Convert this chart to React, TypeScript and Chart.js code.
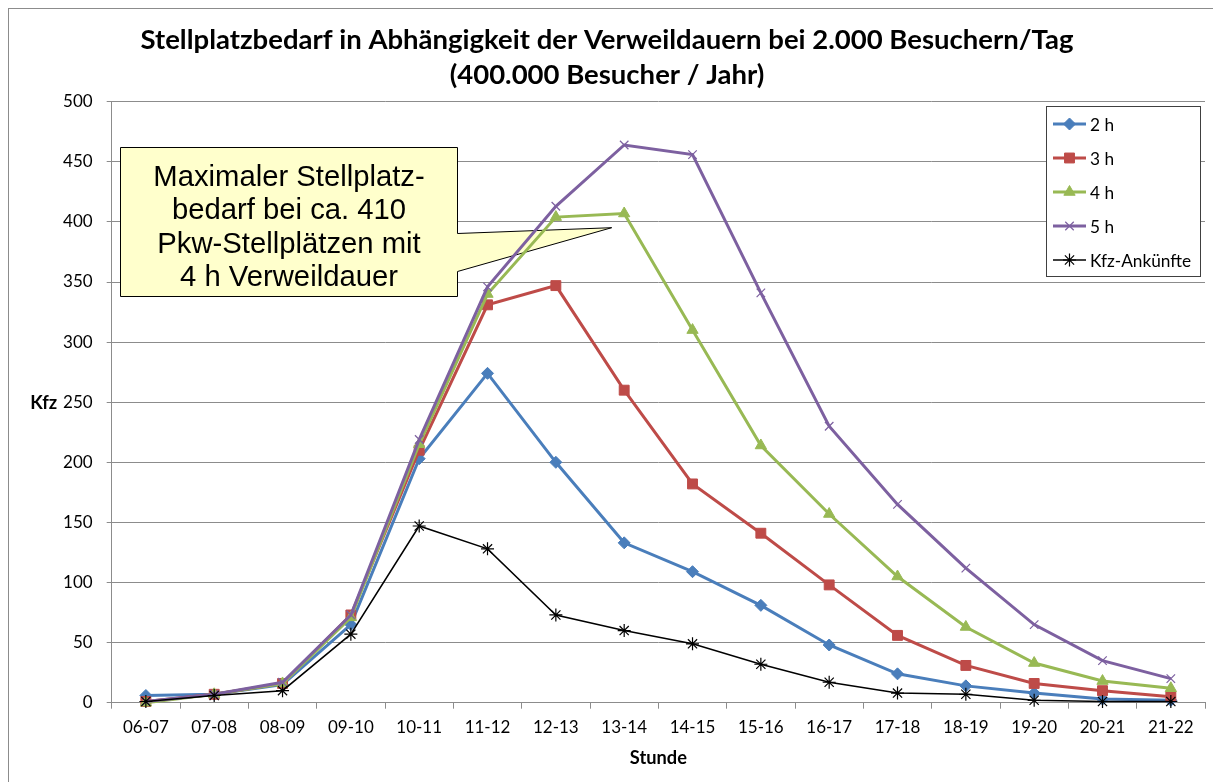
import React, { useEffect, useRef } from 'react';
import { Chart, registerables } from 'chart.js';
import { drawPoint } from 'chart.js/helpers';

Chart.register(...registerables);

// ---------- data ----------
const hours = ['06-07', '07-08', '08-09', '09-10', '10-11', '11-12', '12-13', '13-14', '14-15', '15-16', '16-17', '17-18', '18-19', '19-20', '20-21', '21-22'];
const series2h = [6, 7, 15, 65, 203, 274, 200, 133, 109, 81, 48, 24, 14, 8, 3, 2];
const series3h = [1, 7, 16, 73, 210, 331, 347, 260, 182, 141, 98, 56, 31, 16, 10, 5];
const series4h = [0, 7, 16, 71, 215, 340, 404, 407, 310, 214, 157, 105, 63, 33, 18, 12];
const series5h = [1, 7, 17, 73, 219, 346, 413, 464, 456, 341, 230, 165, 112, 65, 35, 20];
const arrivals = [1, 6, 10, 57, 147, 128, 73, 60, 49, 32, 17, 8, 7, 2, 1, 1];
const seriesLabels = ['2 h', '3 h', '4 h', '5 h', 'Kfz-Ankünfte'];
const yMin = 0;
const yMax = 500;
const yStep = 50;
const titleLines = ['Stellplatzbedarf in Abhängigkeit der Verweildauern bei 2.000 Besuchern/Tag', '(400.000 Besucher / Jahr)'];
const calloutLines = ['Maximaler Stellplatz-', 'bedarf bei ca. 410', 'Pkw-Stellplätzen mit', '4 h Verweildauer'];
const xTitle = 'Stunde';
const yTitle = 'Kfz';

// ---------- styles ----------
const COLORS = ['#4A7EBB', '#BE4B48', '#98B954', '#7D60A0', '#000000'];
const POINT_STYLES = ['rectRot', 'rect', 'triangle', 'crossRot', 'star'];
const POINT_RADII = [6, 7, 6.5, 6, 6.5];
const LINE_WIDTHS = [3, 3, 3, 3, 1.5];
const POINT_BORDER = [1, 1, 1, 1.2, 1.2];
const GRID = '#8c8c8c';
const SANS = 'Lato, "DejaVu Sans", sans-serif';
const ARIAL = '"Liberation Sans", Arial, sans-serif';

const W = 1204;
const H = 773;

function fitSize(text: string, weight: string, family: string, target: number): number {
  const c = document.createElement('canvas').getContext('2d')!;
  c.font = `${weight} 100px ${family}`;
  const w = c.measureText(text).width;
  return Math.round((100 * target / w) * 4) / 4;
}

export default function App() {
  const ref = useRef<HTMLCanvasElement>(null);

  useEffect(() => {
    if (!ref.current) return;
    const titleSize = fitSize(titleLines[0], 'bold', SANS, 936);
    const tickSize = fitSize('06-07', 'normal', SANS, 45.7);
    const legendSize = fitSize('Kfz-Ankünfte', 'normal', SANS, 101.7);
    const axisTitleSize = fitSize(xTitle, 'bold', SANS, 57);
    const calloutSize = fitSize(calloutLines[0], 'normal', ARIAL, 272);

    const allSeries = [series2h, series3h, series4h, series5h, arrivals];

    const overlay = {
      id: 'overlay',
      beforeDatasetsDraw(chart: any) {
        const ctx = chart.ctx as CanvasRenderingContext2D;
        // callout box with pointer
        const L = 111.5, T = 138.5, R = 448.5, B = 287.5;
        const bt = 224.5, bb = 262.5, tipX = 602.7, tipY = 218.7;
        ctx.save();
        ctx.beginPath();
        ctx.moveTo(L, T);
        ctx.lineTo(R, T);
        ctx.lineTo(R, bt);
        ctx.lineTo(tipX, tipY);
        ctx.lineTo(R, bb);
        ctx.lineTo(R, B);
        ctx.lineTo(L, B);
        ctx.closePath();
        ctx.fillStyle = '#FFFFCC';
        ctx.fill();
        ctx.lineWidth = 1;
        ctx.strokeStyle = '#000';
        ctx.stroke();
        ctx.fillStyle = '#000';
        ctx.font = `normal ${calloutSize}px ${ARIAL}`;
        ctx.textAlign = 'center';
        ctx.textBaseline = 'alphabetic';
        const cx = (L + R) / 2;
        calloutLines.forEach((line, i) => {
          const centerY = 166.5 + i * 33.5;
          ctx.fillText(line, cx, centerY + 0.358 * calloutSize);
        });
        ctx.restore();
      },
      afterDatasetsDraw(chart: any) {
        const ctx = chart.ctx as CanvasRenderingContext2D;
        const area = chart.chartArea;
        ctx.save();
        // legend
        const lx = 1037.5, ly = 97.5, lw = 154, lh = 170;
        ctx.fillStyle = '#fff';
        ctx.fillRect(lx, ly, lw, lh);
        ctx.strokeStyle = '#404040';
        ctx.lineWidth = 1;
        ctx.strokeRect(lx, ly, lw, lh);
        seriesLabels.forEach((label, i) => {
          const y = 115 + i * 34;
          ctx.strokeStyle = COLORS[i];
          ctx.lineWidth = LINE_WIDTHS[i];
          ctx.beginPath();
          ctx.moveTo(1044, y);
          ctx.lineTo(1077, y);
          ctx.stroke();
          ctx.fillStyle = COLORS[i];
          ctx.lineWidth = POINT_BORDER[i];
          drawPoint(ctx, { pointStyle: POINT_STYLES[i], radius: POINT_RADII[i], rotation: 0, borderWidth: POINT_BORDER[i] } as any, 1060.5, y);
          ctx.fillStyle = '#000';
          ctx.font = `normal ${legendSize}px ${SANS}`;
          ctx.textAlign = 'left';
          ctx.textBaseline = 'middle';
          ctx.fillText(label, 1081, y + 1);
        });
        // axis titles
        ctx.fillStyle = '#000';
        ctx.font = `bold ${axisTitleSize}px ${SANS}`;
        ctx.textAlign = 'center';
        ctx.textBaseline = 'middle';
        ctx.fillText(yTitle, 34.7, (area.top + area.bottom) / 2 + 1);
        ctx.fillText(xTitle, (area.left + area.right) / 2, 749);
        ctx.restore();
      },
    };

    const chart = new Chart(ref.current, {
      type: 'line',
      data: {
        labels: hours,
        datasets: allSeries.map((d, i) => ({
          label: seriesLabels[i],
          data: d,
          borderColor: COLORS[i],
          backgroundColor: COLORS[i],
          pointBackgroundColor: COLORS[i],
          pointBorderColor: COLORS[i],
          borderWidth: LINE_WIDTHS[i],
          pointStyle: POINT_STYLES[i] as any,
          pointRadius: POINT_RADII[i],
          pointBorderWidth: POINT_BORDER[i],
          tension: 0,
          fill: false,
          order: 4 - i,
          clip: false as any,
        })),
      },
      options: {
        animation: false,
        responsive: false,
        devicePixelRatio: 1,
        layout: { padding: { left: 0, right: 8, top: 0, bottom: 0 } },
        plugins: {
          legend: { display: false },
          tooltip: { enabled: false },
          title: {
            display: true,
            text: titleLines,
            color: '#000',
            font: { family: SANS, weight: 'bold', size: titleSize, lineHeight: '35px' } as any,
            padding: { top: 13.5, bottom: 9.2 },
          },
        },
        scales: {
          x: {
            type: 'category',
            offset: true,
            grid: { display: true, drawOnChartArea: false, drawTicks: true, tickLength: 6, color: GRID, offset: true },
            border: { display: true, color: GRID },
            ticks: { color: '#000', font: { family: SANS, size: tickSize }, padding: 9, maxRotation: 0, autoSkip: false },
            afterFit: (s: any) => { s.height = 79.3; },
          },
          y: {
            min: yMin,
            max: yMax,
            grid: { color: GRID, tickLength: 5 },
            border: { display: true, color: GRID },
            ticks: { stepSize: yStep, color: '#000', font: { family: SANS, size: tickSize }, padding: 14 },
            afterFit: (s: any) => { s.width = 102.7; },
          },
        },
      },
      plugins: [overlay],
    });
    return () => chart.destroy();
  }, []);

  return (
    <div
      style={{
        position: 'absolute',
        left: 8,
        top: 8,
        width: W + 1,
        height: H + 1,
        boxSizing: 'border-box',
        borderLeft: '1px solid #8c8c8c',
        borderTop: '1px solid #8c8c8c',
        background: '#fff',
      }}
    >
      <canvas ref={ref} width={W} height={H} style={{ display: 'block', width: W, height: H }} />
    </div>
  );
}
